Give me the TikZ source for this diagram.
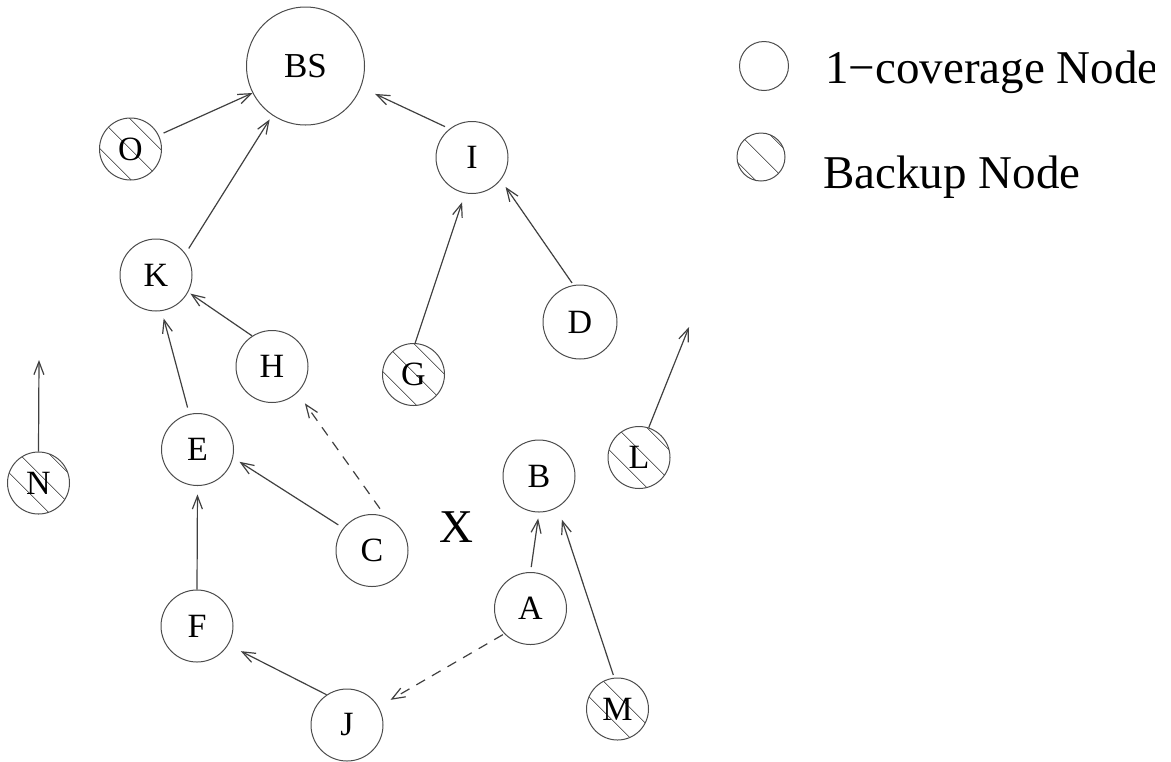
\documentclass[tikz,border=0pt]{standalone}
\usepackage{fontspec}
\setmainfont{Liberation Serif}
\usetikzlibrary{arrows.meta,patterns.meta}
\begin{document}
\begin{tikzpicture}[x=0.5pt,y=-0.5pt,
  nd/.style={circle,draw=black!70,line width=0.5pt,minimum size=36pt,inner sep=0pt,
    font=\fontsize{17}{19}\selectfont},
  bk/.style={nd,minimum size=31pt,
    pattern={Lines[angle=-45,distance=10.5pt,line width=0.5pt]},pattern color=black!60},
  arr/.style={draw=black!75,line width=0.6pt,-{Straight Barb[length=6.5pt,width=5pt]}},
  dsh/.style={arr,dash pattern=on 5pt off 4pt},
  big/.style={font=\fontsize{23.5}{26}\selectfont}]
\useasboundingbox (0,0) rectangle (1171,761);
% nodes
\node[nd,minimum size=59pt,font=\fontsize{17.5}{19}\selectfont] (BS) at (305.5,66) {BS};
\node[bk] (O) at (130.5,149) {O};
\node[nd] (I) at (472,157.5) {I};
\node[nd] (K) at (156,275) {K};
\node[nd] (H) at (272,366.5) {H};
\node[bk] (G) at (413.5,374.5) {G};
\node[nd,minimum size=37pt] (D) at (580,322) {D};
\node[nd] (E) at (197.5,449.5) {E};
\node[bk] (N) at (38.5,483) {N};
\node[nd] (B) at (539,476) {B};
\node[bk] (L) at (639,457.5) {L};
\node[nd] (C) at (372,550.5) {C};
\node[big] (X) at (456,527) {X};
\node[nd] (F) at (197,626) {F};
\node[nd] (A) at (530.5,608.5) {A};
\node[nd] (J) at (347,725) {J};
\node[bk] (M) at (617.5,709) {M};
\coordinate (Lend) at (689,327);
\coordinate (Nend) at (39,360);
% legend
\node[nd,minimum size=24.5pt] (lg1) at (764,66) {};
\node[bk,minimum size=24pt] (lg2) at (761,157) {};
\begin{scope}
\clip (700,0) rectangle (1154,761);
\node[big,anchor=base west,inner sep=0pt] (t1) at (825,83) {1−coverage Node};
\end{scope}
\node[big,anchor=base west,inner sep=0pt] (t2) at (823,188) {Backup Node};
% connectors
\draw[arr,shorten <=2.6pt] (O.26) -- (BS.207);
\draw[arr,shorten <=3pt,shorten >=2.4pt] (K.36) -- (BS.236);
\draw[arr,shorten <=2.5pt,shorten >=7.8pt] (I.128) -- (BS.-21);
\draw[arr,shorten >=4.7pt] (G.87) -- (I.-101);
\draw[arr,shorten <=1.3pt,shorten >=4.2pt] (D.100) -- (I.-38);
\draw[arr,shorten >=1.3pt] (H.123) -- (K.-28);
\draw[arr,shorten <=3.3pt,shorten >=3.8pt] (E.103) -- (K.-81);
\draw[arr,shorten <=2.9pt,shorten >=3.8pt] (C.142) -- (E.-13);
\draw[dsh,shorten <=4.9pt,shorten >=6.5pt] (C.68) -- (H.-46);
\draw[arr,shorten >=4.2pt] (F.90) -- (E.-90);
\draw[arr,shorten >=7pt] (J.124) -- (F.-31);
\draw[dsh,shorten <=0.8pt,shorten >=6.9pt] (A.-136) -- (J.30);
\draw[arr,shorten <=2.5pt,shorten >=3pt] (A.90) -- (B.-90);
\draw[arr,shorten <=1.4pt,shorten >=6.5pt] (M.96) -- (B.-59);
\draw[arr] (L.72) -- (Lend);
\draw[arr] (N.90) -- (Nend);
\end{tikzpicture}
\end{document}
